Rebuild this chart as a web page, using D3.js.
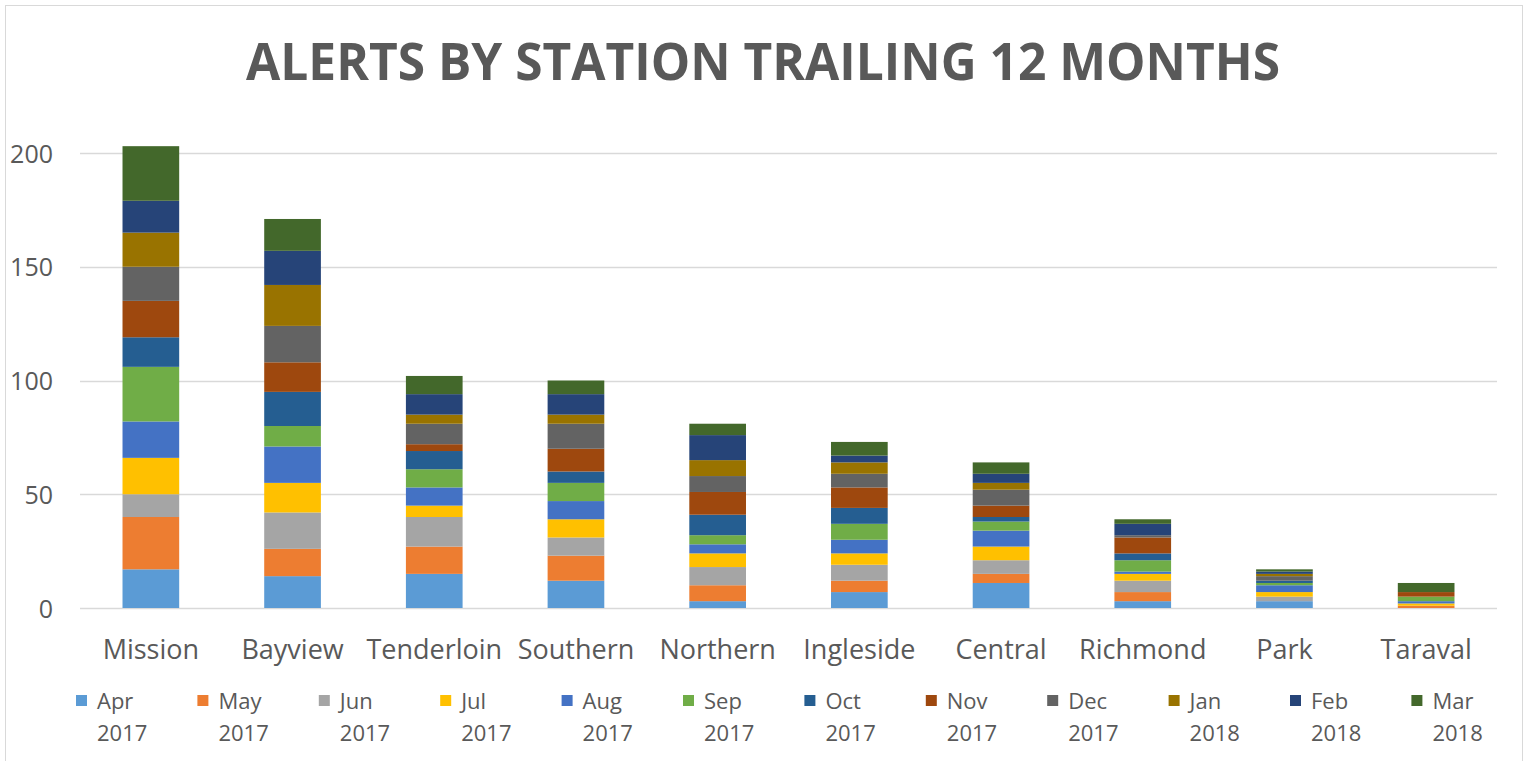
<!DOCTYPE html>
<html>
<head>
<meta charset="utf-8">
<script src="https://cdn.jsdelivr.net/npm/d3@7"></script>
<style>
  html, body { margin: 0; padding: 0; background: #ffffff; }
  svg { display: block; font-family: "Open Sans", "Liberation Sans", sans-serif; }
</style>
</head>
<body>
<svg id="chart" width="1528" height="761"></svg>
<script>
// ---- Data ----
const titleText = "ALERTS BY STATION TRAILING 12 MONTHS";
const categories = ["Mission", "Bayview", "Tenderloin", "Southern", "Northern", "Ingleside", "Central", "Richmond", "Park", "Taraval"];
const seriesMonths = ["Apr", "May", "Jun", "Jul", "Aug", "Sep", "Oct", "Nov", "Dec", "Jan", "Feb", "Mar"];
const seriesYears  = ["2017", "2017", "2017", "2017", "2017", "2017", "2017", "2017", "2017", "2018", "2018", "2018"];
const yTicks = [0, 50, 100, 150, 200];

const apr2017 = [17, 14, 15, 12, 3, 7, 11, 3, 3, 0];
const may2017 = [23, 12, 12, 11, 7, 5, 4, 4, 0, 1];
const jun2017 = [10, 16, 13, 8, 8, 7, 6, 5, 2, 0];
const jul2017 = [16, 13, 5, 8, 6, 5, 6, 3, 2, 1];
const aug2017 = [16, 16, 8, 8, 4, 6, 7, 1, 3, 1];
const sep2017 = [24, 9, 8, 8, 4, 7, 4, 5, 1, 2];
const oct2017 = [13, 15, 8, 5, 9, 7, 2, 3, 1, 0];
const nov2017 = [16, 13, 3, 10, 10, 9, 5, 7, 0, 2];
const dec2017 = [15, 16, 9, 11, 7, 6, 7, 1, 2, 0];
const jan2018 = [15, 18, 4, 4, 7, 5, 3, 0, 1, 0];
const feb2018 = [14, 15, 9, 9, 11, 3, 4, 5, 1, 0];
const mar2018 = [24, 14, 8, 6, 5, 6, 5, 2, 1, 4];

const seriesValues = [apr2017, may2017, jun2017, jul2017, aug2017, sep2017, oct2017, nov2017, dec2017, jan2018, feb2018, mar2018];
const seriesColors = ["#5B9BD5", "#ED7D31", "#A5A5A5", "#FFC000", "#4472C4", "#70AD47", "#255E91", "#9E480E", "#636363", "#997300", "#264478", "#43682B"];

// ---- Layout ----
const svg = d3.select("#chart");
const W = 1528, H = 761;
const plot = { left: 80, right: 1497, top: 153, bottom: 608 };
const textColor = "#595959";

svg.append("rect").attr("x", 0).attr("y", 0).attr("width", W).attr("height", H).attr("fill", "#ffffff");
svg.append("rect").attr("x", 5.5).attr("y", 5.5).attr("width", 1517).attr("height", 765)
  .attr("fill", "none").attr("stroke", "#d9d9d9").attr("stroke-width", 1);

// Title
svg.append("text")
  .attr("x", 763).attr("y", 80)
  .attr("text-anchor", "middle")
  .attr("font-size", 52).attr("font-weight", 700)
  .attr("fill", textColor)
  .attr("textLength", 1034).attr("lengthAdjust", "spacingAndGlyphs")
  .text(titleText);

const x = d3.scaleBand().domain(categories).range([plot.left, plot.right]).paddingInner(0.6).paddingOuter(0.3);
const y = d3.scaleLinear().domain([0, 200]).range([plot.bottom, plot.top]);

// Gridlines
svg.append("g").selectAll("line").data(yTicks).join("line")
  .attr("x1", plot.left).attr("x2", plot.right)
  .attr("y1", d => Math.round(y(d)) + 0.5).attr("y2", d => Math.round(y(d)) + 0.5)
  .attr("stroke", "#d9d9d9").attr("stroke-width", 1.3);

// Y axis labels
const yAxis = d3.axisLeft(y).tickValues(yTicks).tickSize(0).tickPadding(0);
const gy = svg.append("g").attr("transform", `translate(53,0)`).call(yAxis);
gy.select(".domain").remove();
gy.selectAll("text").attr("font-size", 25).attr("fill", textColor).attr("font-family", "'Open Sans', sans-serif").attr("dy", "0.36em");

// Stack
const rows = categories.map((c, i) => {
  const r = { category: c };
  seriesMonths.forEach((m, j) => { r[m] = seriesValues[j][i]; });
  return r;
});
const stack = d3.stack().keys(seriesMonths)(rows);

svg.append("g").selectAll("g").data(stack).join("g")
  .attr("fill", (d, i) => seriesColors[i])
  .selectAll("rect").data(d => d).join("rect")
  .attr("x", d => x(d.data.category))
  .attr("width", x.bandwidth())
  .attr("y", d => y(d[1]))
  .attr("height", d => Math.max(0, y(d[0]) - y(d[1])));

// X axis labels
const xAxis = d3.axisBottom(x).tickSize(0).tickPadding(0);
const gx = svg.append("g").attr("transform", `translate(0,659)`).call(xAxis);
gx.select(".domain").remove();
gx.selectAll("text").attr("font-size", 27).attr("fill", textColor).attr("font-family", "'Open Sans', sans-serif").attr("dy", 0);

// Legend
const legend = svg.append("g");
const legendStart = 76, legendStep = 121.4;
const items = legend.selectAll("g").data(seriesMonths).join("g")
  .attr("transform", (d, i) => `translate(${legendStart + i * legendStep},0)`);
items.append("rect").attr("x", 0).attr("y", 695).attr("width", 11).attr("height", 11)
  .attr("fill", (d, i) => seriesColors[i]);
items.append("text").attr("x", 21).attr("y", 709)
  .attr("font-size", 22).attr("fill", textColor).text(d => d);
items.append("text").attr("x", 21).attr("y", 741)
  .attr("font-size", 22).attr("fill", textColor).text((d, i) => seriesYears[i]);
</script>
</body>
</html>
